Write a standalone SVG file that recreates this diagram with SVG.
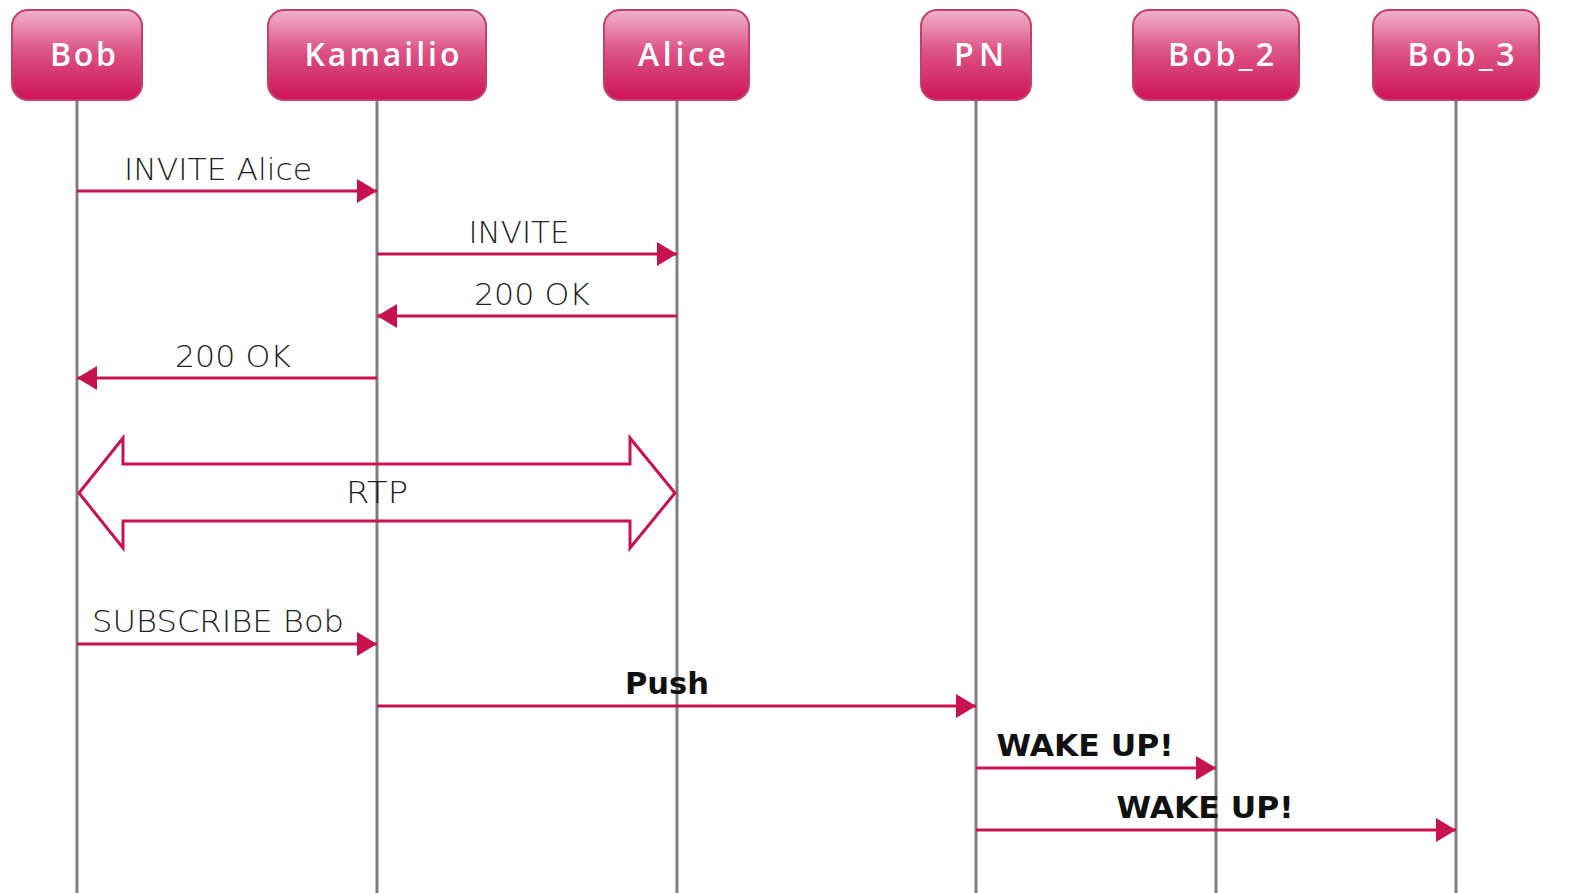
<svg xmlns="http://www.w3.org/2000/svg" width="1570" height="893" viewBox="0 0 1570 893">
<defs>
<linearGradient id="g" x1="0" y1="0" x2="0" y2="1">
<stop offset="0" stop-color="#f0b4cb"/>
<stop offset="0.45" stop-color="#dc5486"/>
<stop offset="1" stop-color="#cf1457"/>
</linearGradient>
<marker id="ah" markerWidth="20" markerHeight="24" refX="20" refY="12" orient="auto" markerUnits="userSpaceOnUse">
<path d="M0,0 L20,12 L0,24 Z" fill="#c8124f"/>
</marker>
<style>
.box{fill:url(#g);stroke:#c2406f;stroke-width:2}
.nt{font-family:"Open Sans","DejaVu Sans",sans-serif;font-size:32px;fill:#ffffff;text-anchor:middle;font-weight:600}
.life{stroke:#7f7f7f;stroke-width:3}
.msg{stroke:#c8124f;stroke-width:3;fill:none;marker-end:url(#ah)}
.lb{font-family:"DejaVu Sans",sans-serif;font-size:31px;fill:#222;text-anchor:middle;font-weight:300}
.bl{font-family:"DejaVu Sans",sans-serif;font-size:30px;fill:#111;text-anchor:middle;font-weight:bold}
</style>
</defs>
<rect width="1570" height="893" fill="#ffffff"/>
<g id="lifelines">
<line class="life" x1="77" y1="100" x2="77" y2="893"/>
<line class="life" x1="377" y1="100" x2="377" y2="893"/>
<line class="life" x1="677" y1="100" x2="677" y2="893"/>
<line class="life" x1="976" y1="100" x2="976" y2="893"/>
<line class="life" x1="1216" y1="100" x2="1216" y2="893"/>
<line class="life" x1="1456" y1="100" x2="1456" y2="893"/>
</g>
<g id="node-bob"><rect class="box" x="12" y="10" width="130" height="90" rx="16"/><text class="nt" x="83" y="66" textLength="66" lengthAdjust="spacing">Bob</text></g>
<g id="node-kamailio"><rect class="box" x="268" y="10" width="218" height="90" rx="16"/><text class="nt" x="382" y="66" textLength="155" lengthAdjust="spacing">Kamailio</text></g>
<g id="node-alice"><rect class="box" x="604" y="10" width="145" height="90" rx="16"/><text class="nt" x="682" y="66" textLength="88" lengthAdjust="spacing">Alice</text></g>
<g id="node-pn"><rect class="box" x="921" y="10" width="110" height="90" rx="16"/><text class="nt" x="979" y="66" textLength="50" lengthAdjust="spacing">PN</text></g>
<g id="node-bob2"><rect class="box" x="1133" y="10" width="166" height="90" rx="16"/><text class="nt" x="1221" y="66" textLength="106" lengthAdjust="spacing">Bob_2</text></g>
<g id="node-bob3"><rect class="box" x="1373" y="10" width="166" height="90" rx="16"/><text class="nt" x="1461" y="66" textLength="107" lengthAdjust="spacing">Bob_3</text></g>
<g id="connectors">
<line class="msg" x1="77" y1="191" x2="377" y2="191"/>
<line class="msg" x1="377" y1="254" x2="677" y2="254"/>
<line class="msg" x1="677" y1="316" x2="377" y2="316"/>
<line class="msg" x1="377" y1="378" x2="77" y2="378"/>
<path d="M79,493 L123,438 L123,464 L630,464 L630,438 L675,493 L630,548 L630,521 L123,521 L123,548 Z" fill="none" stroke="#c8124f" stroke-width="3" stroke-linejoin="miter"/>
<line class="msg" x1="77" y1="644" x2="377" y2="644"/>
<line class="msg" x1="377" y1="706" x2="976" y2="706"/>
<line class="msg" x1="976" y1="768" x2="1216" y2="768"/>
<line class="msg" x1="976" y1="830" x2="1456" y2="830"/>
</g>
<g id="labels">
<text class="lb" x="218" y="180" textLength="188" lengthAdjust="spacingAndGlyphs">INVITE Alice</text>
<text class="lb" x="519" y="243" textLength="101" lengthAdjust="spacingAndGlyphs">INVITE</text>
<text class="lb" x="532" y="305" textLength="116" lengthAdjust="spacingAndGlyphs">200 OK</text>
<text class="lb" x="233" y="367" textLength="116" lengthAdjust="spacingAndGlyphs">200 OK</text>
<text class="lb" x="377" y="503" textLength="62" lengthAdjust="spacingAndGlyphs">RTP</text>
<text class="lb" x="218" y="632" textLength="252" lengthAdjust="spacingAndGlyphs">SUBSCRIBE Bob</text>
<text class="bl" x="667" y="694" textLength="84" lengthAdjust="spacingAndGlyphs">Push</text>
<text class="bl" x="1085" y="756" textLength="177" lengthAdjust="spacingAndGlyphs">WAKE UP!</text>
<text class="bl" x="1205" y="818" textLength="177" lengthAdjust="spacingAndGlyphs">WAKE UP!</text>
</g>
</svg>
